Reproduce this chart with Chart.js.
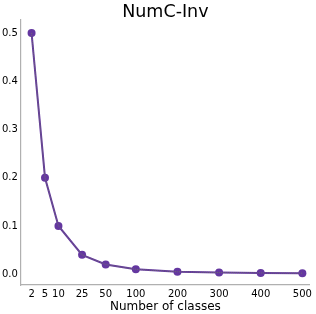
<!DOCTYPE html>
<html>
<head>
<meta charset="utf-8">
<script src="https://cdn.jsdelivr.net/npm/chart.js@4"></script>
<style>
  html, body { margin: 0; padding: 0; background: #fff; }
  #wrap { width: 316px; height: 314px; }
</style>
</head>
<body>
<div id="wrap"><canvas id="numcChart" width="316" height="314"></canvas></div>
<script>
// =============================
// DATA
// =============================

const numClasses = [2, 5, 10, 25, 50, 100, 200, 300, 400, 500];
const invValues = [0.5, 0.2, 0.1, 0.04, 0.02, 0.01, 0.005, 0.0033, 0.0025, 0.002];
const yTicks = [0, 0.1, 0.2, 0.3, 0.4, 0.5];
const chartTitle = "NumC-Inv";
const xTitle = "Number of classes";

// axis is squeezed for small class counts, linear from 100 on
function warp(n) {
    if (n >= 100) return n;
    return 100 - 67 * (Math.pow(100, 0.35) - Math.pow(n, 0.35));
}

const points = numClasses.map((n, i) => ({ x: warp(n), y: invValues[i] }));

// titles centred over the plot area, like matplotlib
const areaTitles = {
    id: "areaTitles",
    afterDraw(chart) {
        const ctx = chart.ctx;
        const area = chart.chartArea;
        const cx = (area.left + area.right) / 2;
        ctx.save();
        ctx.fillStyle = "#000";
        ctx.textAlign = "center";
        ctx.textBaseline = "middle";
        ctx.font = "17.5px 'DejaVu Sans'";
        ctx.fillText(chartTitle, cx, 12);
        ctx.font = "12px 'DejaVu Sans'";
        ctx.fillText(xTitle, cx, 307);
        ctx.restore();
    }
};

// =============================
// CHART
// =============================

new Chart(document.getElementById("numcChart"), {
    type: "line",
    data: {
        datasets: [
            {
                data: points,
                borderColor: "#6437a0",
                borderWidth: 2,
                pointRadius: 4,
                pointBackgroundColor: "#6437a0",
                pointBorderWidth: 0,
                tension: 0,
                order: 2
            },
            {
                data: points,
                borderColor: "rgba(110,110,110,0.9)",
                borderWidth: 1,
                borderDash: [1, 1],
                pointRadius: 0,
                tension: 0,
                order: 1
            }
        ]
    },
    plugins: [areaTitles],
    options: {
        responsive: false,
        animation: false,
        layout: { padding: { left: -1, right: 0, top: 20, bottom: 11 } },
        plugins: {
            legend: { display: false },
            tooltip: { enabled: false },
            title: { display: false }
        },
        scales: {
            x: {
                type: "linear",
                min: -176,
                max: 518,
                afterBuildTicks: axis => {
                    axis.ticks = numClasses.map(n => ({ value: warp(n) }));
                },
                ticks: {
                    autoSkip: false,
                    maxRotation: 0,
                    color: "#000",
                    font: { family: "DejaVu Sans", size: 10, lineHeight: 1 },
                    padding: 4,
                    callback: (v, i) => String(numClasses[i])
                },
                grid: { display: false, drawTicks: false },
                border: { display: true, color: "#b0b0b0", width: 1.2 }
            },
            y: {
                min: -0.0225,
                max: 0.527,
                afterBuildTicks: axis => {
                    axis.ticks = yTicks.map(v => ({ value: v }));
                },
                ticks: {
                    color: "#000",
                    font: { family: "DejaVu Sans", size: 10 },
                    padding: 3,
                    callback: v => v.toFixed(1)
                },
                grid: { display: false, drawTicks: false },
                border: { display: true, color: "#b0b0b0", width: 1.2 }
            }
        }
    }
});
</script>
</body>
</html>
